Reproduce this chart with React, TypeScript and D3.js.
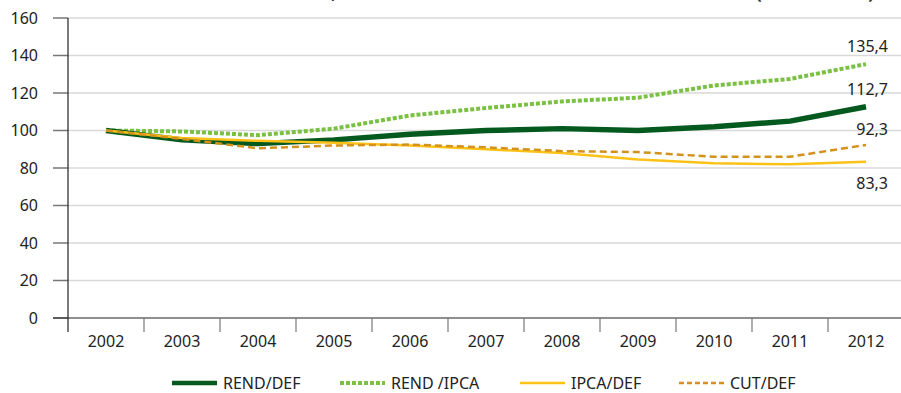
import React, { useRef, useEffect } from 'react';
import * as d3 from 'd3';

const years = ['2002', '2003', '2004', '2005', '2006', '2007', '2008', '2009', '2010', '2011', '2012'];
const rendDef = [100, 95, 93, 95, 98, 100, 101, 100, 102, 105, 112.7];
const rendIpca = [100, 99.5, 97.5, 101, 108, 112, 115.5, 117.5, 124, 127.5, 135.4];
const ipcaDef = [100, 96, 94.5, 93.5, 92, 90, 88, 84.5, 82.5, 82, 83.3];
const cutDef = [100, 95.5, 90.5, 92, 92.5, 91, 89, 88.5, 86, 86, 92.3];
const yTicks = [0, 20, 40, 60, 80, 100, 120, 140, 160];
const endLabels = ['112,7', '135,4', '83,3', '92,3'];
const seriesNames = ['REND/DEF', 'REND /IPCA', 'IPCA/DEF', 'CUT/DEF'];
const titleParts = ['Rendimento médio real,', 'custo e IPCA deflacionados', '(2002 = 100)'];

const FONT = '"Noto Sans", "Open Sans", sans-serif';

export default function App() {
  const svgRef = useRef(null);

  useEffect(() => {
    const W = 901, H = 393;
    const svg = d3.select(svgRef.current).attr('width', W).attr('height', H);
    svg.selectAll('*').remove();

    const x = d3.scaleBand().domain(years).range([68, 904]);
    const y = d3.scaleLinear().domain([0, 160]).range([318, 18]);

    // title, cut off above the top edge (only a few descenders show)
    const title = svg.append('g')
      .style('font-family', FONT).style('font-size', '17px').style('font-weight', 'bold')
      .attr('fill', '#333');
    title.append('text').attr('x', 336).attr('y', -1.5).attr('text-anchor', 'end').text(titleParts[0]);
    title.append('text').attr('x', 344).attr('y', -1.5).text(titleParts[1]);
    title.append('text').attr('x', 756).attr('y', -1.5)
      .attr('textLength', 118).attr('lengthAdjust', 'spacing').text(titleParts[2]);

    // gridlines
    svg.append('g').selectAll('line').data(yTicks.filter(d => d > 0)).enter().append('line')
      .attr('x1', 68).attr('x2', W)
      .attr('y1', d => y(d)).attr('y2', d => y(d))
      .attr('stroke', '#d9d9d9').attr('stroke-width', 1.5);

    // y axis
    const yAxis = svg.append('g');
    yAxis.selectAll('line.tick').data(yTicks).enter().append('line')
      .attr('x1', 53).attr('x2', 68)
      .attr('y1', d => y(d)).attr('y2', d => y(d))
      .attr('stroke', '#777').attr('stroke-width', 1.5);
    yAxis.selectAll('text').data(yTicks).enter().append('text')
      .attr('x', 38).attr('y', d => y(d)).attr('dy', '0.35em')
      .attr('text-anchor', 'end')
      .style('font-family', FONT).style('font-size', '16px').attr('fill', '#222')
      .text(d => d);
    yAxis.append('line')
      .attr('x1', 68).attr('x2', 68).attr('y1', 18).attr('y2', 332)
      .attr('stroke', '#222').attr('stroke-width', 1.2);

    // x axis
    const xAxis = svg.append('g');
    xAxis.append('line')
      .attr('x1', 53).attr('x2', W).attr('y1', 318).attr('y2', 318)
      .attr('stroke', '#222').attr('stroke-width', 1.2);
    xAxis.selectAll('line.tick').data(years.slice(1)).enter().append('line')
      .attr('x1', d => x(d)).attr('x2', d => x(d))
      .attr('y1', 318).attr('y2', 332)
      .attr('stroke', '#777').attr('stroke-width', 1.2);
    xAxis.selectAll('text').data(years).enter().append('text')
      .attr('x', d => x(d) + x.bandwidth() / 2).attr('y', 347)
      .attr('text-anchor', 'middle')
      .style('font-family', FONT).style('font-size', '16px').attr('fill', '#222')
      .text(d => d);

    const series = [
      { name: seriesNames[0], values: rendDef, color: '#04591f', width: 5.5, dash: null },
      { name: seriesNames[1], values: rendIpca, color: '#7ac143', width: 4, dash: '4,2' },
      { name: seriesNames[2], values: ipcaDef, color: '#fdc217', width: 2.5, dash: null },
      { name: seriesNames[3], values: cutDef, color: '#d4911c', width: 2.5, dash: '7,4' },
    ];

    const line = d3.line()
      .x((d, i) => x(years[i]) + x.bandwidth() / 2)
      .y(d => y(d));

    // draw back to front
    [series[1], series[0], series[2], series[3]].forEach(s => {
      svg.append('path')
        .datum(s.values)
        .attr('fill', 'none')
        .attr('stroke', s.color)
        .attr('stroke-width', s.width)
        .attr('stroke-linejoin', 'round')
        .attr('stroke-dasharray', s.dash)
        .attr('d', line);
    });

    // end labels
    const labelY = [y(rendDef[10]) - 12, y(rendIpca[10]) - 12, y(ipcaDef[10]) + 27, y(cutDef[10]) - 10];
    endLabels.forEach((t, i) => {
      svg.append('text')
        .attr('x', 888).attr('y', labelY[i])
        .attr('text-anchor', 'end')
        .style('font-family', FONT).style('font-size', '16px').attr('fill', '#222')
        .text(t);
    });

    // legend
    const legendX = [172, 340, 520, 679];
    const legend = svg.append('g').selectAll('g').data(series).enter().append('g')
      .attr('transform', (d, i) => `translate(${legendX[i]},383)`);
    legend.append('line')
      .attr('x1', 0).attr('x2', 45).attr('y1', 0).attr('y2', 0)
      .attr('stroke', d => d.color)
      .attr('stroke-width', d => Math.min(d.width, 4.5))
      .attr('stroke-dasharray', d => d.dash === '7,4' ? '5,3' : d.dash);
    legend.append('text')
      .attr('x', 51).attr('y', 0).attr('dy', '0.35em')
      .style('font-family', FONT).style('font-size', '16px').attr('fill', '#222')
      .text(d => d.name);

    return () => {
      d3.select(svgRef.current).selectAll('*').remove();
    };
  }, []);

  return <svg ref={svgRef} style={{ position: 'absolute', left: 0, top: 0 }}></svg>;
}
